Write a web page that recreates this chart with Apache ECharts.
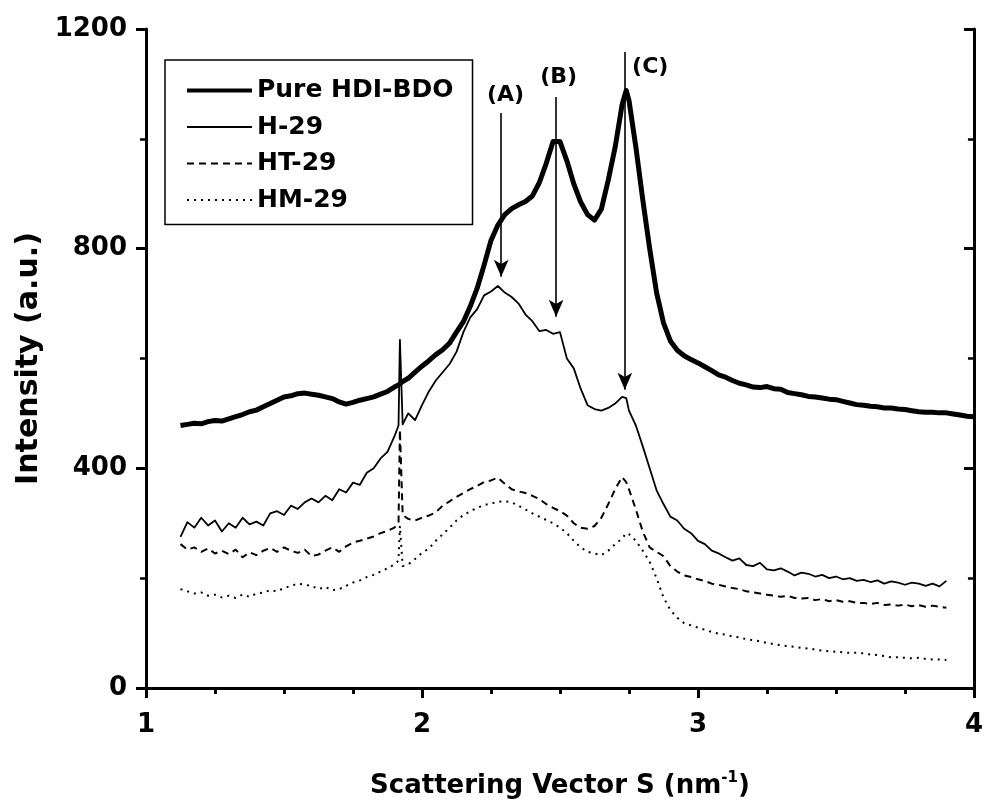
<!DOCTYPE html>
<html>
<head>
<meta charset="utf-8">
<script src="https://cdn.jsdelivr.net/npm/echarts@6/dist/echarts.min.js"></script>
<style>
html,body{margin:0;padding:0;background:#fff;}
#chart{width:986px;height:804px;}
</style>
</head>
<body>
<div id="chart"></div>
<script>
// Scattering vector S (nm^-1) sample grid
var S = [
  1.125,1.15,1.175,1.2,1.225,1.25,1.275,1.3,1.325,1.35,
  1.375,1.4,1.425,1.45,1.475,1.5,1.525,1.55,1.575,1.6,
  1.625,1.65,1.675,1.7,1.725,1.75,1.775,1.8,1.825,1.85,
  1.875,1.9,1.915,1.92,1.93,1.95,1.975,2.0,2.025,2.05,
  2.075,2.1,2.125,2.15,2.175,2.2,2.225,2.25,2.275,2.3,
  2.325,2.35,2.375,2.4,2.425,2.45,2.475,2.5,2.525,2.55,
  2.575,2.6,2.625,2.65,2.675,2.7,2.725,2.74,2.75,2.775,
  2.8,2.825,2.85,2.875,2.9,2.925,2.95,2.975,3.0,3.025,
  3.05,3.075,3.1,3.125,3.15,3.175,3.2,3.225,3.25,3.275,
  3.3,3.325,3.35,3.375,3.4,3.425,3.45,3.475,3.5,3.525,
  3.55,3.575,3.6,3.625,3.65,3.675,3.7,3.725,3.75,3.775,
  3.8,3.825,3.85,3.875,3.9,3.925,3.95,3.975,4.0
];
var pureHDIBDO = [
  478,480,482,481,485,487,486,490,494,498,
  503,506,512,518,524,530,532,536,537,535,
  533,530,527,521,517,520,524,527,530,535,
  540,548,552,555,558,564,575,586,596,607,
  616,628,648,667,695,728,770,815,843,862,
  873,880,886,896,920,955,995,995,960,918,
  885,862,852,872,925,985,1062,1088,1070,985,
  889,800,720,665,632,615,605,598,592,585,
  578,570,566,560,555,552,548,547,549,545,
  544,538,536,534,531,530,528,526,525,522,
  519,516,515,513,512,510,510,508,507,505,
  503,502,502,501,501,499,497,495,494
];
var h29 = [
  275,302,292,310,296,305,285,300,292,310,
  298,303,296,318,322,315,332,326,338,345,
  338,350,342,362,356,374,370,392,400,418,
  430,458,478,634,480,500,488,515,540,560,
  575,590,612,648,675,690,715,722,732,720,
  712,700,680,668,650,652,645,648,600,582,
  545,515,508,505,510,518,530,528,505,478,
  440,400,360,335,312,305,290,282,268,262,
  250,245,238,232,236,224,222,228,216,214,
  218,212,205,210,208,203,206,200,203,198,
  200,195,197,193,196,190,194,192,188,192,
  190,186,190,185,195,null,null,null,null
];
var ht29 = [
  262,252,256,248,254,245,250,244,252,238,
  247,242,250,255,248,256,250,246,252,240,
  243,250,256,248,258,265,268,272,276,282,
  286,292,300,470,315,308,305,310,314,320,
  332,340,348,355,362,368,375,378,383,372,
  362,358,355,350,344,335,328,322,314,300,
  292,290,295,310,335,362,384,375,362,325,
  285,256,248,240,222,212,205,202,198,195,
  190,188,185,182,180,176,174,172,170,168,
  166,168,164,163,164,160,162,158,160,157,
  158,155,155,153,155,151,152,150,152,149,
  151,148,150,148,146,null,null,null,null
];
var hm29 = [
  180,176,172,174,168,170,165,168,164,170,
  166,172,174,178,176,182,186,190,188,186,
  180,184,178,180,186,192,196,202,206,212,
  218,225,232,295,222,225,235,246,254,268,
  280,292,305,315,322,328,333,336,339,340,
  338,332,325,318,312,306,300,292,282,268,
  256,248,245,242,250,262,272,282,280,268,
  250,230,200,165,142,128,118,114,110,106,
  102,99,97,94,92,89,87,85,82,80,
  78,76,75,73,72,70,68,67,66,65,
  64,64,63,61,60,58,56,56,55,54,
  55,53,52,52,51,null,null,null,null
];
var seriesNames = ['Pure HDI-BDO','H-29','HT-29','HM-29'];

// Annotation arrows (S position, start intensity, tip intensity) and labels
var arrowS = [2.287, 2.486, 2.735];
var arrowTop = [1047, 1076, 1158];
var arrowTip = [749, 676, 543];
var annoText = ['(A)','(B)','(C)'];
var annoS = [2.303, 2.495, 2.827];
var annoI = [1080, 1112, 1130];

// Axis ticks
var xMin = 1, xMax = 4, xStep = 1;
var yMin = 0, yMax = 1200, yStep = 400;

function pairs(ys){
  var out = [];
  for (var i = 0; i < S.length; i++) out.push([S[i], ys[i] == null ? null : ys[i]]);
  return out;
}

var FONT = '"DejaVu Sans", Verdana, sans-serif';
var chart = echarts.init(document.getElementById('chart'), null, {renderer:'canvas'});

var axisLine = {show:true, lineStyle:{color:'#000', width:3}};
function xAx(pos, showLabel, inside){
  return {
    type:'value', position:pos, min:xMin, max:xMax, interval:xStep,
    axisLine: axisLine,
    axisTick:{show:true, inside:inside, length:10, lineStyle:{color:'#000', width:3}},
    minorTick:{show:true, splitNumber:4, length:6, lineStyle:{color:'#000', width:2.5}},
    splitLine:{show:false},
    axisLabel:{show:showLabel, color:'#000', fontSize:26, fontWeight:'bold', fontFamily:FONT, margin:24,
      formatter:function(v){return String(v);}},
    name: showLabel ? 'Scattering Vector S (nm{sup|-1})' : '',
    nameLocation:'middle', nameGap:83,
    nameTextStyle:{color:'#000', fontSize:26, fontWeight:'bold', fontFamily:FONT,
      rich:{sup:{fontSize:15, fontWeight:'bold', fontFamily:FONT, color:'#000', padding:[0,0,15,0]}}}
  };
}
function yAx(pos, showLabel, inside){
  return {
    type:'value', position:pos, min:yMin, max:yMax, interval:yStep,
    axisLine: axisLine,
    axisTick:{show:true, inside:inside, length:10, lineStyle:{color:'#000', width:3}},
    minorTick:{show:true, splitNumber:2, length:6, lineStyle:{color:'#000', width:2.5}},
    splitLine:{show:false},
    axisLabel:{show:showLabel, color:'#000', fontSize:26, fontWeight:'bold', fontFamily:FONT, margin:19,
      formatter:function(v){return String(v);}},
    name: showLabel ? 'Intensity (a.u.)' : '',
    nameLocation:'middle', nameGap:101, nameRotate:90,
    nameTextStyle:{color:'#000', fontSize:30, fontWeight:'bold', fontFamily:FONT}
  };
}

var styles = [
  {width:5, type:'solid', legendWidth:4},
  {width:1.8, type:'solid', legendWidth:2},
  {width:2, type:[7,5], legendWidth:2},
  {width:2, type:[2,5], legendWidth:2}
];
var datasets = [pureHDIBDO, h29, ht29, hm29];

var series = datasets.map(function(d, i){
  return {
    name: seriesNames[i], type:'line', data: pairs(d),
    xAxisIndex:0, yAxisIndex:0,
    showSymbol:false, symbol:'none', connectNulls:false,
    lineStyle:{color:'#000', width:styles[i].width, type:styles[i].type, join:'round'},
    itemStyle:{color:'#000'},
    silent:true, animation:false, z: 4 - i
  };
});

var arrowData = arrowS.map(function(s, i){
  return [{coord:[s, arrowTop[i]]}, {coord:[s, arrowTip[i]]}];
});
series.push({
  name:'arrows', type:'line', data:[], xAxisIndex:0, yAxisIndex:0, symbol:'none',
  markLine:{
    silent:true, animation:false,
    symbol:['none','arrow'], symbolSize:[11,17],
    lineStyle:{color:'#000', width:1.6, type:'solid'},
    itemStyle:{color:'#000'},
    label:{show:false},
    data: arrowData
  }
});
series.push({
  name:'labels', type:'scatter', xAxisIndex:0, yAxisIndex:0,
  data: annoS.map(function(s, i){ return [s, annoI[i], annoText[i]]; }),
  symbolSize:0, itemStyle:{color:'rgba(0,0,0,0)', opacity:1}, silent:true, animation:false,
  label:{show:true, position:'inside', formatter:function(p){return p.value[2];},
    color:'#000', opacity:1, fontSize:22, fontWeight:'bold', fontFamily:FONT}
});

chart.setOption({
  backgroundColor:'#fff',
  animation:false,
  grid:{left:146, right:9, top:29, bottom:116, containLabel:false},
  xAxis:[xAx('bottom', true, false), xAx('top', false, true)],
  yAxis:[yAx('left', true, false), yAx('right', false, true)],
  legend:{
    data: seriesNames.map(function(n, i){
      return {name:n, lineStyle:{width:styles[i].legendWidth, type:styles[i].type, color:'#000'}};
    }),
    left:165, top:60, orient:'vertical',
    itemWidth:65, itemHeight:14, itemGap:11.5,
    padding:[18, 19, 12, 20],
    borderColor:'#000', borderWidth:1.5, backgroundColor:'#fff',
    selectedMode:false,
    itemStyle:{color:'rgba(0,0,0,0)', borderWidth:0, opacity:0},
    textStyle:{color:'#000', fontSize:25, fontWeight:'bold', fontFamily:FONT, lineHeight:24}
  },
  series: series
});
</script>
</body>
</html>
